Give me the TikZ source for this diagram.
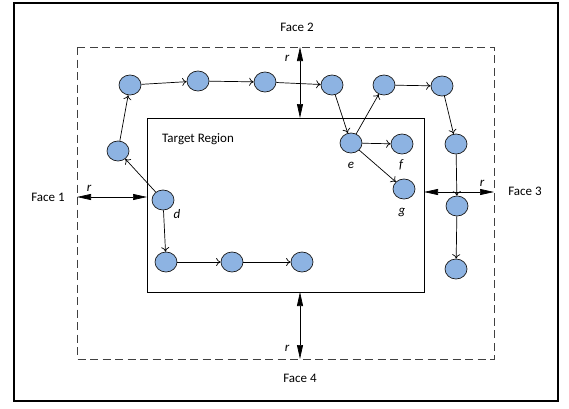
\documentclass[tikz,border=0pt]{standalone}
\usepackage{fontspec}
\setmainfont{Carlito}
\usetikzlibrary{shapes.geometric,arrows.meta}
\definecolor{nodeblue}{HTML}{8DB3E2}
\definecolor{dashgray}{HTML}{404040}
\tikzset{
  vtx/.style={ellipse,draw=black!90,line width=0.7pt,fill=nodeblue,minimum width=22pt,minimum height=20pt,inner sep=0pt},
  link/.style={line width=0.7pt,-{To[length=4.5pt,width=8pt]}},
  rarrow/.style={line width=0.7pt,{Triangle[length=14pt,width=6pt]}-{Triangle[length=14pt,width=6pt]}},
  lbl/.style={font=\fontsize{13}{15}\selectfont,inner sep=0pt},
  ilbl/.style={font=\fontsize{13}{15}\selectfont\itshape,inner sep=0pt},
}
\begin{document}
\begin{tikzpicture}[x=1pt,y=-1pt]
\useasboundingbox (0,0) rectangle (569,408);
% outer frame
\draw[line width=2pt] (14,3) rectangle (558,401);
% dashed face rectangle
\draw[dashgray,line width=0.9pt,dash pattern=on 8pt off 4.5pt] (77,47) rectangle (494,359);
% target region
\draw[line width=0.8pt] (147,118) rectangle (424,292);
\node[lbl] (tr) at (198,139) {Target Region};
% faces
\node[lbl] (f1) at (48,197) {Face 1};
\node[lbl] (f2) at (297,27) {Face 2};
\node[lbl] (f3) at (525,191) {Face 3};
\node[lbl] (f4) at (300,378) {Face 4};
% r arrows
\coordinate (tA) at (300,47); \coordinate (tB) at (300,118);
\coordinate (lA) at (77,197); \coordinate (lB) at (147,197);
\coordinate (rA) at (424,192); \coordinate (rB) at (494,192);
\coordinate (bA) at (300,292); \coordinate (bB) at (300,359);
\draw[rarrow] (tA) -- (tB);
\draw[rarrow] (lA) -- (lB);
\draw[rarrow] (rA) -- (rB);
\draw[rarrow] (bA) -- (bB);
\node[ilbl] (r1) at (287,58) {r};
\node[ilbl] (r2) at (89,188) {r};
\node[ilbl] (r3) at (482,183) {r};
\node[ilbl] (r4) at (287,348) {r};
% vertices
\node[vtx] (n1) at (130,85) {};
\node[vtx] (n2) at (198,81) {};
\node[vtx] (n3) at (265,82) {};
\node[vtx] (n4) at (332,85) {};
\node[vtx] (n5) at (384,85) {};
\node[vtx] (n6) at (442,86) {};
\node[vtx] (e) at (351,143) {};
\node[vtx] (f) at (402,144) {};
\node[vtx] (g) at (404,189) {};
\node[vtx] (n7) at (456,144) {};
\node[vtx] (n8) at (457,206) {};
\node[vtx] (n9) at (456,269) {};
\node[vtx] (n10) at (118,151) {};
\node[vtx] (d) at (163,200) {};
\node[vtx] (n11) at (166,262) {};
\node[vtx] (n12) at (232,262) {};
\node[vtx] (n13) at (302,262) {};
% vertex labels
\node[ilbl] (ld) at (177,214) {d};
\node[ilbl] (le) at (351,165) {e};
\node[ilbl] (lf) at (401,165) {f};
\node[ilbl] (lg) at (402,212) {g};
% links
\draw[link] (d) -- (n10);
\draw[link] (n10) -- (n1);
\draw[link] (n1) -- (n2);
\draw[link] (n2) -- (n3);
\draw[link] (n3) -- (n4);
\draw[link] (n4) -- (e);
\draw[link] (e) -- (n5);
\draw[link] (n5) -- (n6);
\draw[link] (n6) -- (n7);
\draw[link] (n7) -- (n8);
\draw[link] (n8) -- (n9);
\draw[link] (e) -- (f);
\draw[link] (e) -- (g);
\draw[link] (d) -- (n11);
\draw[link] (n11) -- (n12);
\draw[link] (n12) -- (n13);
\end{tikzpicture}
\end{document}
